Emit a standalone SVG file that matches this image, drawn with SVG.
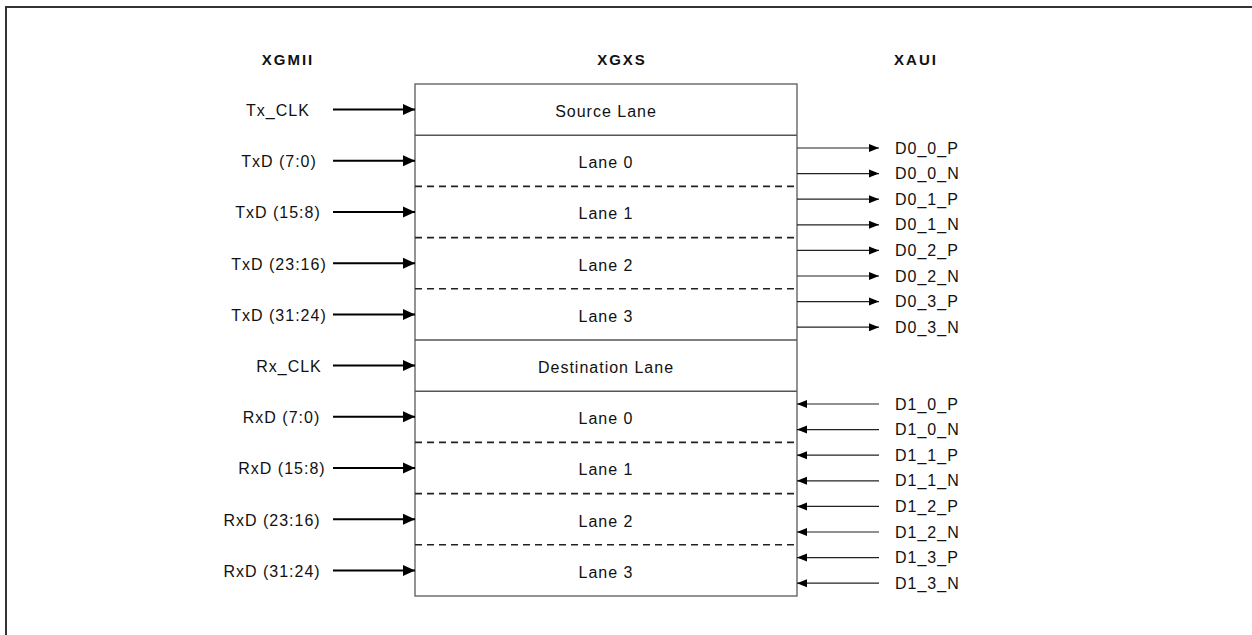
<svg xmlns="http://www.w3.org/2000/svg" width="1252" height="635" viewBox="0 0 1252 635">
<defs>
<style>
.t{font-family:"Liberation Sans",Arial,sans-serif;font-size:16px;fill:#111;letter-spacing:1px}
.h{font-family:"Liberation Sans",Arial,sans-serif;font-size:15px;font-weight:bold;fill:#111;letter-spacing:2px;text-anchor:middle}
.m{text-anchor:middle}
.sep{stroke:#555;stroke-width:1.4}
.dash{stroke:#222;stroke-width:1.6;stroke-dasharray:7 5}
.in{stroke:#000;stroke-width:2;fill:none;marker-end:url(#big)}
.out{stroke:#222;stroke-width:1.2;fill:none;marker-end:url(#small)}
</style>
<marker id="big" markerUnits="userSpaceOnUse" markerWidth="13" markerHeight="12" refX="12" refY="6" orient="auto"><path d="M0,0.5 L12,6 L0,11.5 Z" fill="#000"/></marker>
<marker id="small" markerUnits="userSpaceOnUse" markerWidth="11" markerHeight="9" refX="10" refY="4.5" orient="auto"><path d="M0,0.5 L10,4.5 L0,8.5 Z" fill="#000"/></marker>
</defs>
<rect width="1252" height="635" fill="#fff"/>
<path d="M6,640 V7 H1260" fill="none" stroke="#333" stroke-width="2"/>

<g id="headers">
<text class="h" x="288" y="65">XGMII</text>
<text class="h" x="622" y="65">XGXS</text>
<text class="h" x="916" y="65">XAUI</text>
</g>

<g id="xgxs">
<rect x="415" y="84" width="382" height="512" fill="#fff" stroke="#666" stroke-width="1.4"/>
<line class="sep" x1="415" y1="135.2" x2="797" y2="135.2"/>
<line class="dash" x1="415" y1="186.4" x2="797" y2="186.4"/>
<line class="dash" x1="415" y1="237.6" x2="797" y2="237.6"/>
<line class="dash" x1="415" y1="288.8" x2="797" y2="288.8"/>
<line class="sep" x1="415" y1="340" x2="797" y2="340"/>
<line class="sep" x1="415" y1="391.2" x2="797" y2="391.2"/>
<line class="dash" x1="415" y1="442.4" x2="797" y2="442.4"/>
<line class="dash" x1="415" y1="493.6" x2="797" y2="493.6"/>
<line class="dash" x1="415" y1="544.8" x2="797" y2="544.8"/>
</g>
<g id="lane-src"><text class="t m" x="606" y="117">Source Lane</text></g>
<g id="lane-tx0"><text class="t m" x="606" y="168.2">Lane 0</text></g>
<g id="lane-tx1"><text class="t m" x="606" y="219.4">Lane 1</text></g>
<g id="lane-tx2"><text class="t m" x="606" y="270.6">Lane 2</text></g>
<g id="lane-tx3"><text class="t m" x="606" y="321.8">Lane 3</text></g>
<g id="lane-dst"><text class="t m" x="606" y="373">Destination Lane</text></g>
<g id="lane-rx0"><text class="t m" x="606" y="424.2">Lane 0</text></g>
<g id="lane-rx1"><text class="t m" x="606" y="475.4">Lane 1</text></g>
<g id="lane-rx2"><text class="t m" x="606" y="526.6">Lane 2</text></g>
<g id="lane-rx3"><text class="t m" x="606" y="577.8">Lane 3</text></g>

<g id="xgmii-labels">
<text class="t m" x="278" y="116">Tx_CLK</text>
<text class="t m" x="279" y="167.2">TxD (7:0)</text>
<text class="t m" x="278" y="218.4">TxD (15:8)</text>
<text class="t m" x="279" y="269.6">TxD (23:16)</text>
<text class="t m" x="279" y="320.8">TxD (31:24)</text>
<text class="t m" x="289" y="372">Rx_CLK</text>
<text class="t m" x="281.5" y="423.2">RxD (7:0)</text>
<text class="t m" x="282" y="474.4">RxD (15:8)</text>
<text class="t m" x="272" y="525.6">RxD (23:16)</text>
<text class="t m" x="272" y="576.8">RxD (31:24)</text>
</g>

<g id="xaui-labels">
<text class="t" x="895" y="153.6">D0_0_P</text>
<text class="t" x="895" y="179.2">D0_0_N</text>
<text class="t" x="895" y="204.8">D0_1_P</text>
<text class="t" x="895" y="230.4">D0_1_N</text>
<text class="t" x="895" y="256">D0_2_P</text>
<text class="t" x="895" y="281.6">D0_2_N</text>
<text class="t" x="895" y="307.2">D0_3_P</text>
<text class="t" x="895" y="332.8">D0_3_N</text>
<text class="t" x="895" y="409.6">D1_0_P</text>
<text class="t" x="895" y="435.2">D1_0_N</text>
<text class="t" x="895" y="460.8">D1_1_P</text>
<text class="t" x="895" y="486.4">D1_1_N</text>
<text class="t" x="895" y="512">D1_2_P</text>
<text class="t" x="895" y="537.6">D1_2_N</text>
<text class="t" x="895" y="563.2">D1_3_P</text>
<text class="t" x="895" y="588.8">D1_3_N</text>
</g>

<g id="connectors">
<line class="in" x1="333" y1="109.6" x2="415" y2="109.6"/>
<line class="in" x1="333" y1="160.8" x2="415" y2="160.8"/>
<line class="in" x1="333" y1="212" x2="415" y2="212"/>
<line class="in" x1="333" y1="263.2" x2="415" y2="263.2"/>
<line class="in" x1="333" y1="314.4" x2="415" y2="314.4"/>
<line class="in" x1="333" y1="365.6" x2="415" y2="365.6"/>
<line class="in" x1="333" y1="416.8" x2="415" y2="416.8"/>
<line class="in" x1="333" y1="468" x2="415" y2="468"/>
<line class="in" x1="333" y1="519.2" x2="415" y2="519.2"/>
<line class="in" x1="333" y1="570.4" x2="415" y2="570.4"/>

<line class="out" x1="797" y1="148" x2="879" y2="148"/>
<line class="out" x1="797" y1="173.6" x2="879" y2="173.6"/>
<line class="out" x1="797" y1="199.2" x2="879" y2="199.2"/>
<line class="out" x1="797" y1="224.8" x2="879" y2="224.8"/>
<line class="out" x1="797" y1="250.4" x2="879" y2="250.4"/>
<line class="out" x1="797" y1="276" x2="879" y2="276"/>
<line class="out" x1="797" y1="301.6" x2="879" y2="301.6"/>
<line class="out" x1="797" y1="327.2" x2="879" y2="327.2"/>

<line class="out" x1="879" y1="404" x2="797" y2="404"/>
<line class="out" x1="879" y1="429.6" x2="797" y2="429.6"/>
<line class="out" x1="879" y1="455.2" x2="797" y2="455.2"/>
<line class="out" x1="879" y1="480.8" x2="797" y2="480.8"/>
<line class="out" x1="879" y1="506.4" x2="797" y2="506.4"/>
<line class="out" x1="879" y1="532" x2="797" y2="532"/>
<line class="out" x1="879" y1="557.6" x2="797" y2="557.6"/>
<line class="out" x1="879" y1="583.2" x2="797" y2="583.2"/>
</g>
</svg>
